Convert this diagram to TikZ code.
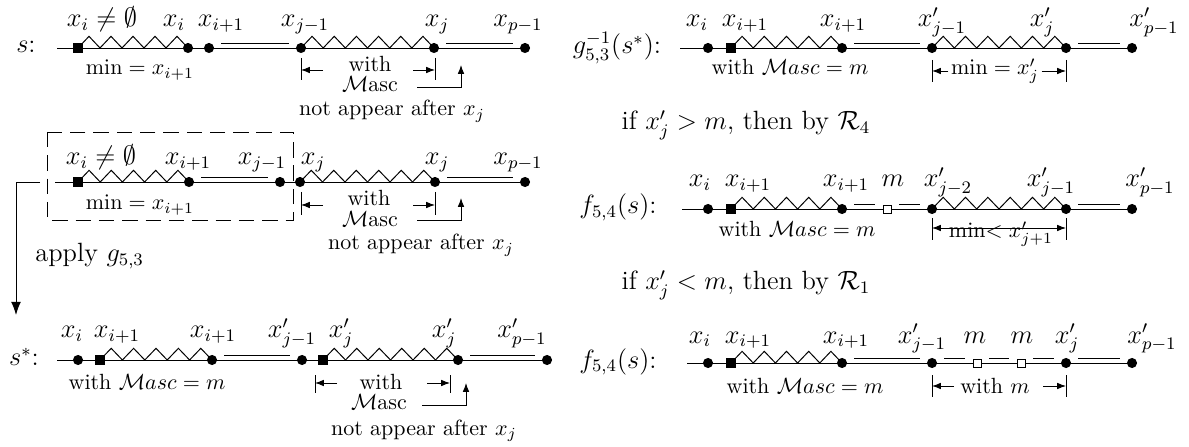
\documentclass[tikz,border=0pt]{standalone}
\usepackage{amsmath,amssymb}
\usetikzlibrary{arrows.meta,calc}
\pgfdeclarelayer{bg}
\pgfsetlayers{bg,main}
\newcommand\zigline[3]{\foreach \k in {1,...,#3}{\draw[ln] let \p1=(#1.center), \p2=(#2.center), \n1={(\x2-\x1)/#3} in ({\x1+(\k-1)*\n1},\y1) -- ({\x1+(\k-0.5)*\n1},{\y1+5.3pt}) -- ({\x1+\k*\n1},\y1);}}
\newcommand\upline[2]{\draw[ln] ($(#1)+(12,-5)$) -- ($(#2)+(-12,-5)$);}
\newcommand\tickat[3]{\draw[ln] ($(#1)+(0,#2)$) -- ($(#1)+(0,#3)$);}
\begin{document}
\begin{tikzpicture}[x=0.4545pt,y=-0.4545pt,
  ln/.style={line width=0.45pt},
  dot/.style={circle,fill,inner sep=0pt,minimum size=4.6pt},
  sq/.style={rectangle,fill,inner sep=0pt,minimum size=4.5pt},
  osq/.style={rectangle,draw,fill=white,inner sep=0pt,minimum size=3.6pt,line width=0.4pt},
  lab/.style={font=\large,anchor=base,inner sep=0pt},
  txt/.style={font=\normalsize,anchor=base,inner sep=0pt},
  dim/.style={ln,-{Latex[length=4pt,width=3pt]}},
  big/.style={ln,-{Latex[length=6pt,width=4.5pt]}},
  box/.style={ln,dash pattern=on 7pt off 3.6pt}]
\useasboundingbox (0,0) rectangle (1189,447);

% ================= Row A =================
\coordinate (a0) at (57,48);
\node[sq] (a1) at (78,48) {};
\node[dot] (a2) at (188,48) {};
\node[dot] (a3) at (209,48) {};
\node[dot] (a4) at (301,48) {};
\node[dot] (a5) at (434,48) {};
\node[dot] (a6) at (525,48) {};
\begin{pgfonlayer}{bg}
\draw[ln] (a0) -- (a6.center);
\zigline{a1}{a2}{5}
\zigline{a4}{a5}{6}
\upline{a3}{a4}
\upline{a5}{a6}
\end{pgfonlayer}
\node[lab] (asl) at (26,53) {$s$:};
\node[lab] (al1) at (102,27) {$x_i\neq\emptyset$};
\node[lab] (al2) at (174,27) {$x_i$};
\node[lab] (al3) at (221,27) {$x_{i+1}$};
\node[lab] (al4) at (305,27) {$x_{j-1}$};
\node[lab] (al5) at (437,27) {$x_j$};
\node[lab] (al6) at (518,27) {$x_{p-1}$};
\node[txt] (amin) at (140,75) {$\min=x_{i+1}$};
\coordinate (aT1) at (301,70);
\coordinate (aT2) at (435,70);
\tickat{aT1}{-12}{10}
\tickat{aT2}{-12}{10}
\draw[dim] ($(aT1)+(22,0)$) -- (aT1);
\draw[dim] ($(aT2)+(-22,0)$) -- (aT2);
\node[txt] (aw) at (370,72) {with};
\node[txt] (aM) at (370,92) {$\mathcal{M}$asc};
\coordinate (aLs) at (417,87);
\coordinate (aLe) at (461,65);
\draw[dim] (aLs) -| (aLe);
\node[txt] (ana) at (392,116) {not appear after $x_j$};

% ================= Row B =================
\coordinate (b0) at (55,182);
\node[sq] (b1) at (78,182) {};
\node[dot] (b2) at (189,182) {};
\node[dot] (b3) at (280,182) {};
\node[dot] (b4) at (300,182) {};
\node[dot] (b5) at (435,182) {};
\node[dot] (b6) at (525,182) {};
\begin{pgfonlayer}{bg}
\draw[ln] (b0) -- (b6.center);
\zigline{b1}{b2}{5}
\zigline{b4}{b5}{6}
\upline{b2}{b3}
\upline{b5}{b6}
\end{pgfonlayer}
\node[lab] (bl1) at (101,165) {$x_i\neq\emptyset$};
\node[lab] (bl2) at (188,165) {$x_{i+1}$};
\node[lab] (bl3) at (262,165) {$x_{j-1}$};
\node[lab] (bl4) at (313,165) {$x_j$};
\node[lab] (bl5) at (437,165) {$x_j$};
\node[lab] (bl6) at (518,165) {$x_{p-1}$};
\node[txt] (bmin) at (140,210) {$\min=x_{i+1}$};
\draw[box] (47,132) rectangle (293,220);
\coordinate (bT1) at (301,205);
\coordinate (bT2) at (435,205);
\tickat{bT1}{-13}{10}
\tickat{bT2}{-13}{10}
\draw[dim] ($(bT1)+(22,0)$) -- (bT1);
\draw[dim] ($(bT2)+(-22,0)$) -- (bT2);
\node[txt] (bw) at (369,206) {with};
\node[txt] (bM) at (370,227) {$\mathcal{M}$asc};
\coordinate (bLs) at (417,220);
\coordinate (bLe) at (461,198);
\draw[dim] (bLs) -| (bLe);
\node[txt] (bna) at (421,250) {not appear after $x_j$};
% apply connector
\coordinate (k0) at (40,182);
\coordinate (k1) at (16,315);
\draw[big] (k0) -| (k1);
\node[lab,anchor=base west] (apply) at (35,262) {apply $g_{5,3}$};

% ================= Row C =================
\coordinate (c0) at (57,360);
\node[dot] (c1) at (78,360) {};
\node[sq] (c2) at (100,360) {};
\node[dot] (c3) at (212,360) {};
\node[dot] (c4) at (302,360) {};
\node[sq] (c5) at (323,360) {};
\node[dot] (c6) at (458,360) {};
\node[dot] (c7) at (547,360) {};
\begin{pgfonlayer}{bg}
\draw[ln] (c0) -- (c7.center);
\zigline{c2}{c3}{5}
\zigline{c5}{c6}{6}
\upline{c3}{c4}
\upline{c6}{c7}
\end{pgfonlayer}
\node[lab] (csl) at (24,366) {$s^*$:};
\node[lab] (cl1) at (72,338) {$x_i$};
\node[lab] (cl2) at (117,338) {$x_{i+1}$};
\node[lab] (cl3) at (213,338) {$x_{i+1}$};
\node[lab] (cl4) at (292,338) {$x'_{j-1}$};
\node[lab] (cl5) at (341,338) {$x'_j$};
\node[lab] (cl6) at (444,338) {$x'_j$};
\node[lab] (cl7) at (522,338) {$x'_{p-1}$};
\node[txt] (cwm) at (147,390) {with $\mathcal{M}asc=m$};
\coordinate (cT1) at (315,383);
\coordinate (cT2) at (450,383);
\tickat{cT1}{-8}{10}
\tickat{cT2}{-8}{10}
\draw[dim] ($(cT1)+(22,0)$) -- (cT1);
\draw[dim] ($(cT2)+(-23,0)$) -- (cT2);
\node[txt] (cw) at (381,389) {with};
\node[txt] (cM) at (379,409) {$\mathcal{M}$asc};
\coordinate (cLs) at (422,405);
\coordinate (cLe) at (466,383);
\draw[dim] (cLs) -| (cLe);
\node[txt] (cna) at (424,435) {not appear after $x_j$};

% ================= Row D =================
\coordinate (d0) at (680,48);
\node[dot] (d1) at (708,48) {};
\node[sq] (d2) at (731,48) {};
\node[dot] (d3) at (842,48) {};
\node[dot] (d4) at (932,48) {};
\node[dot] (d5) at (1066,48) {};
\node[dot] (d6) at (1132,48) {};
\begin{pgfonlayer}{bg}
\draw[ln] (d0) -- (d6.center);
\zigline{d2}{d3}{5}
\zigline{d4}{d5}{6}
\upline{d3}{d4}
\upline{d5}{d6}
\end{pgfonlayer}
\node[lab] (dsl) at (617,54) {$g^{-1}_{5,3}(s^*)$:};
\node[lab] (dl1) at (697,27) {$x_i$};
\node[lab] (dl2) at (745,27) {$x_{i+1}$};
\node[lab] (dl3) at (843,27) {$x_{i+1}$};
\node[lab] (dl4) at (942,27) {$x'_{j-1}$};
\node[lab] (dl5) at (1042,27) {$x'_j$};
\node[lab] (dl6) at (1154,27) {$x'_{p-1}$};
\node[txt] (dwm) at (790,75) {with $\mathcal{M}asc=m$};
\coordinate (dT1) at (932,71);
\coordinate (dT2) at (1066,71);
\tickat{dT1}{-11}{11}
\tickat{dT2}{-11}{11}
\node[txt,fill=white,inner sep=1pt] (dmin) at (995,75) {$\min=x'_j$};
\draw[dim] (dmin.west |- dT1) -- (dT1);
\draw[dim] (dmin.east |- dT2) -- (dT2);
\node[lab] (if1) at (746,130) {if $x'_j>m$, then by $\mathcal{R}_4$};

% ================= Row E =================
\coordinate (e0) at (682,209);
\node[dot] (e1) at (708,209) {};
\node[sq] (e2) at (731,209) {};
\node[dot] (e3) at (842,209) {};
\node[osq] (e4) at (887,209) {};
\node[dot] (e5) at (932,209) {};
\node[dot] (e6) at (1066,209) {};
\node[dot] (e7) at (1132,209) {};
\begin{pgfonlayer}{bg}
\draw[ln] (e0) -- (e7.center);
\zigline{e2}{e3}{5}
\zigline{e5}{e6}{6}
\upline{e3}{e4}
\upline{e4}{e5}
\upline{e6}{e7}
\end{pgfonlayer}
\node[lab] (esl) at (618,214) {$f_{5,4}(s)$:};
\node[lab] (el1) at (700,187) {$x_i$};
\node[lab] (el2) at (748,187) {$x_{i+1}$};
\node[lab] (el3) at (846,187) {$x_{i+1}$};
\node[lab] (el4) at (893,187) {$m$};
\node[lab] (el5) at (948,187) {$x'_{j-2}$};
\node[lab] (el6) at (1051,187) {$x'_{j-1}$};
\node[lab] (el7) at (1150,187) {$x'_{p-1}$};
\node[txt] (ewm) at (797,237) {with $\mathcal{M}asc=m$};
\coordinate (eT1) at (932,228);
\coordinate (eT2) at (1066,228);
\tickat{eT1}{-10}{12}
\tickat{eT2}{-10}{12}
\draw[ln,{Latex[length=4pt,width=3pt]}-{Latex[length=4pt,width=3pt]}] (eT1) -- (eT2);
\node[txt] (emin) at (1001,238) {min$<x'_{j+1}$};

\node[lab] (if2) at (746,290) {if $x'_j<m$, then by $\mathcal{R}_1$};

% ================= Row F =================
\coordinate (f0) at (687,363);
\node[dot] (f1) at (708,363) {};
\node[sq] (f2) at (731,363) {};
\node[dot] (f3) at (842,363) {};
\node[dot] (f4) at (932,363) {};
\node[osq] (f5) at (977,363) {};
\node[osq] (f6) at (1021,363) {};
\node[dot] (f7) at (1066,363) {};
\node[dot] (f8) at (1132,363) {};
\begin{pgfonlayer}{bg}
\draw[ln] (f0) -- (f8.center);
\zigline{f2}{f3}{5}
\upline{f3}{f4}
\upline{f4}{f5}
\upline{f5}{f6}
\upline{f6}{f7}
\upline{f7}{f8}
\end{pgfonlayer}
\node[lab] (fsl) at (618,368) {$f_{5,4}(s)$:};
\node[lab] (fl1) at (700,343) {$x_i$};
\node[lab] (fl2) at (748,343) {$x_{i+1}$};
\node[lab] (fl3) at (846,343) {$x_{i+1}$};
\node[lab] (fl4) at (922,343) {$x'_{j-1}$};
\node[lab] (fl5) at (975,343) {$m$};
\node[lab] (fl6) at (1022,343) {$m$};
\node[lab] (fl7) at (1067,343) {$x'_j$};
\node[lab] (fl8) at (1152,343) {$x'_{p-1}$};
\node[txt] (fwm) at (805,393) {with $\mathcal{M}asc=m$};
\coordinate (fT1) at (932,386);
\coordinate (fT2) at (1066,386);
\tickat{fT1}{-11}{11}
\tickat{fT2}{-11}{11}
\draw[dim] ($(fT1)+(22,0)$) -- (fT1);
\draw[dim] ($(fT2)+(-23,0)$) -- (fT2);
\node[txt] (fw) at (995,393) {with $m$};
\end{tikzpicture}
\end{document}
